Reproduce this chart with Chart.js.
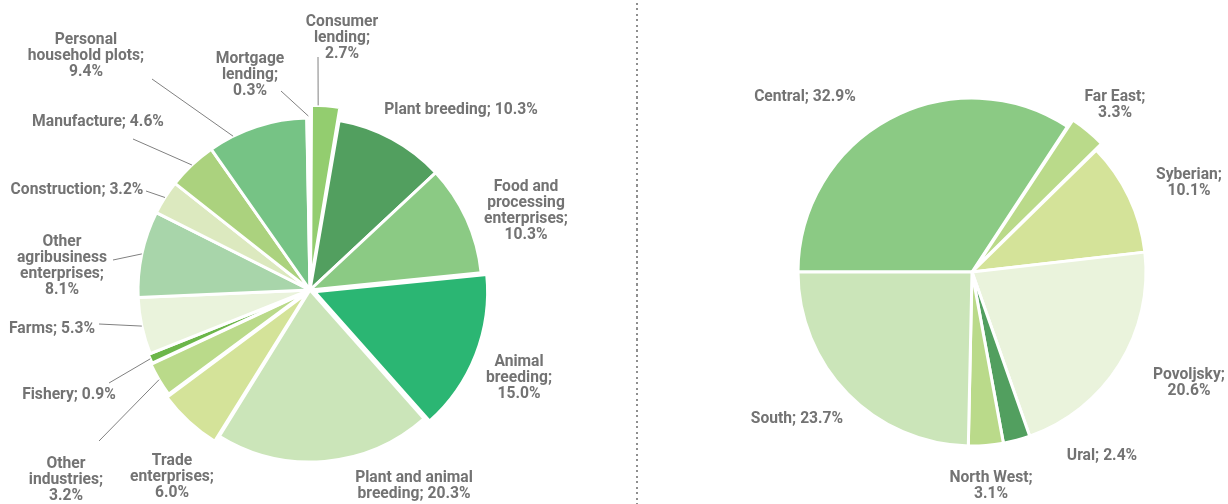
<!DOCTYPE html>
<html>
<head>
<meta charset="utf-8">
<script src="https://cdn.jsdelivr.net/npm/chart.js@4.4.1/dist/chart.umd.min.js"></script>
<style>
  body { margin: 0; background: #fff; }
  #wrap { position: relative; width: 1228px; height: 504px; overflow: hidden; }
  #sectorPie { position: absolute; left: 0; top: 0; }
  #regionPie { position: absolute; left: 640px; top: 0; }
  #divider {
    position: absolute; left: 636px; top: 3px; width: 2px; height: 501px;
    background: repeating-linear-gradient(to bottom, #8f8f8f 0 2px, transparent 2px 5.5px);
  }
</style>
</head>
<body>
<div id="wrap">
  <canvas id="sectorPie" width="620" height="504"></canvas>
  <div id="divider"></div>
  <canvas id="regionPie" width="588" height="504"></canvas>
</div>
<script>
// loans by borrower type, %
const sectorNames = [
  'Consumer lending', 'Plant breeding', 'Food and processing enterprises',
  'Animal breeding', 'Plant and animal breeding', 'Trade enterprises',
  'Other industries', 'Fishery', 'Farms', 'Other agribusiness enterprises',
  'Construction', 'Manufacture', 'Personal household plots', 'Mortgage lending'
];
const sectorShares = [2.7, 10.3, 10.3, 15.0, 20.3, 6.0, 3.2, 0.9, 5.3, 8.1, 3.2, 4.6, 9.4, 0.3];
const sectorColors = [
  '#93cd6f', '#529f5f', '#8bca84', '#2bb673', '#cbe5b9', '#d4e399', '#bada8a',
  '#6cb64a', '#eaf3dc', '#a8d5aa', '#dce9bf', '#abd27e', '#76c385', '#d8e8c1'
];
const sectorOffsets = [28, 0, 0, 20, 0, 17, 8, 4, 0, 0, 0, 0, 0, 4];

// loans by federal district, %
const regionNames = ['Central', 'Far East', 'Syberian', 'Povoljsky', 'Ural', 'North West', 'South'];
const regionShares = [32.9, 3.3, 10.1, 20.6, 2.4, 3.1, 23.7];
const regionColors = ['#8bca84', '#bada8a', '#d4e399', '#eaf3dc', '#529f5f', '#bada8a', '#cbe5b9'];
const regionOffsets = [0, 19, 0, 0, 0, 0, 0];

// label placement, relative to the pie centre:
// pos = centre of the text block, breaks = word indexes after which a line ends,
// leader = outer end of the connector line, at = where on the slice edge it lands (0..1)
const sectorLabelLayout = [
  { pos: [32, -252], breaks: [0, 1], leader: [8, -233], at: 0.25 },
  { pos: [151, -180], breaks: [] },
  { pos: [216, -79], breaks: [1, 2, 3] },
  { pos: [209, 88], breaks: [0, 1] },
  { pos: [104, 196], breaks: [2] },
  { pos: [-138, 187], breaks: [0, 1] },
  { pos: [-244, 190], breaks: [0, 1], leader: [-211, 151], at: 0.5 },
  { pos: [-241, 105], breaks: [], leader: [-201, 93], at: 0.5 },
  { pos: [-258, 39], breaks: [], leader: [-211, 34], at: 0.5 },
  { pos: [-248, -24], breaks: [0, 1, 2], leader: [-197, -30], at: 0.5 },
  { pos: [-233, -100], breaks: [], leader: [-164, -99], at: 0.5 },
  { pos: [-212, -168], breaks: [], leader: [-177, -151], at: 0.5 },
  { pos: [-224, -234], breaks: [0, 2], leader: [-158, -211], at: 0.25 },
  { pos: [-60, -215], breaks: [0, 1], leader: [-29, -199], at: 0.5 }
];
const regionLabelLayout = [
  { pos: [-167, -175], breaks: [] },
  { pos: [143, -167], breaks: [1] },
  { pos: [217, -89], breaks: [0] },
  { pos: [217, 111], breaks: [0] },
  { pos: [130, 184], breaks: [] },
  { pos: [19, 214], breaks: [1] },
  { pos: [-175, 147], breaks: [] }
];

const LABEL_FONT = 'bold 17px Roboto, "DejaVu Sans Condensed", sans-serif';
const LABEL_SQUEEZE = 0.92;   // narrow the glyphs a little, the labels use a condensed face
const LINE_HEIGHT = 16;

// draws "Name; value%" next to every slice, with optional leader lines
function calloutLabels(layout) {
  return {
    id: 'calloutLabels',
    afterDatasetsDraw(chart) {
      const ctx = chart.ctx;
      const meta = chart.getDatasetMeta(0);
      const values = chart.data.datasets[0].data;
      const offsets = chart.data.datasets[0].offset;
      ctx.save();
      ctx.font = LABEL_FONT;
      ctx.textAlign = 'center';
      ctx.textBaseline = 'middle';
      meta.data.forEach((arc, i) => {
        const lay = layout[i];
        const { x, y, startAngle, endAngle, outerRadius } =
          arc.getProps(['x', 'y', 'startAngle', 'endAngle', 'outerRadius'], true);

        const words = (chart.data.labels[i] + '; ' + values[i].toFixed(1) + '%').split(' ');
        const lines = [];
        let cur = [];
        words.forEach((w, k) => {
          cur.push(w);
          if (lay.breaks.indexOf(k) >= 0) { lines.push(cur.join(' ')); cur = []; }
        });
        if (cur.length) lines.push(cur.join(' '));

        const cx = x + lay.pos[0];
        const cy = y + lay.pos[1];
        ctx.fillStyle = '#737373';
        lines.forEach((ln, k) => {
          ctx.save();
          ctx.translate(cx, cy + (k - (lines.length - 1) / 2) * LINE_HEIGHT);
          ctx.scale(LABEL_SQUEEZE, 1);
          ctx.fillText(ln, 0, 0);
          ctx.restore();
        });

        if (lay.leader) {
          // same shift Chart.js applies to an exploded arc
          const t = (offsets[i] || 0) / 4;
          const span = endAngle - startAngle;
          const fix = 1 - Math.sin(Math.min(Math.PI, span));
          const mid = (startAngle + endAngle) / 2;
          const a = startAngle + span * lay.at;
          const px = x + Math.cos(mid) * t + Math.cos(a) * (outerRadius + t * fix);
          const py = y + Math.sin(mid) * t + Math.sin(a) * (outerRadius + t * fix);
          ctx.beginPath();
          ctx.moveTo(x + lay.leader[0], y + lay.leader[1]);
          ctx.lineTo(px, py);
          ctx.strokeStyle = '#808080';
          ctx.lineWidth = 1;
          ctx.stroke();
        }
      });
      ctx.restore();
    }
  };
}

function makePie(id, names, shares, colors, offsets, layout, radius, padding, rotation) {
  return new Chart(document.getElementById(id), {
    type: 'pie',
    data: {
      labels: names,
      datasets: [{
        data: shares,
        backgroundColor: colors,
        borderColor: '#ffffff',
        borderWidth: 3,
        offset: offsets
      }]
    },
    options: {
      responsive: false,
      animation: false,
      radius: radius,
      rotation: rotation,
      layout: { padding: padding },
      plugins: {
        legend: { display: false },
        tooltip: { enabled: false }
      }
    },
    plugins: [calloutLabels(layout)]
  });
}

makePie('sectorPie', sectorNames, sectorShares, sectorColors, sectorOffsets,
  sectorLabelLayout, 172, { top: 76, left: 0, right: 0, bottom: 0 }, 0);
makePie('regionPie', regionNames, regionShares, regionColors, regionOffsets,
  regionLabelLayout, 174, { top: 40, left: 76, right: 0, bottom: 0 }, 270);
</script>
</body>
</html>
